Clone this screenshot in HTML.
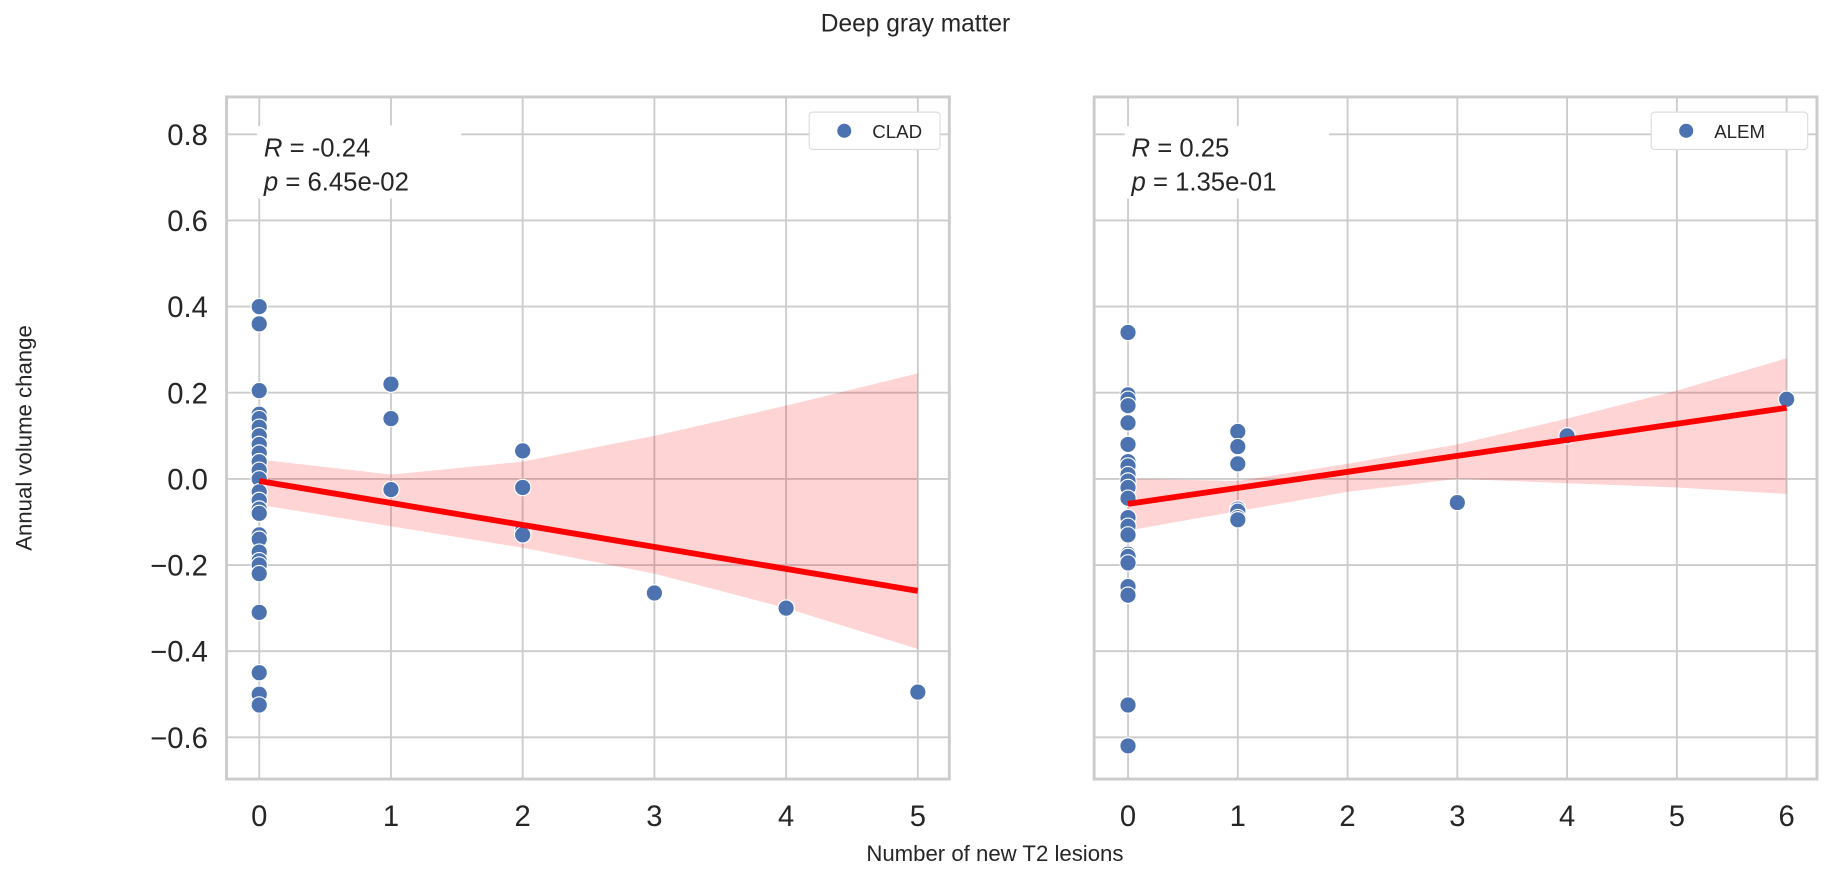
<!DOCTYPE html>
<html><head><meta charset="utf-8"><style>
html,body{margin:0;padding:0;background:#fff;}
svg{display:block;font-family:"Liberation Sans","DejaVu Sans",sans-serif;}
</style></head><body>
<svg id="fig" width="1831" height="869" viewBox="0 0 1568 744" preserveAspectRatio="none" xmlns="http://www.w3.org/2000/svg">
<text x="784" y="27" font-size="21" text-anchor="middle" fill="#262626">Deep gray matter</text>
<text transform="translate(27,375) rotate(-90)" font-size="19" text-anchor="middle" fill="#262626">Annual volume change</text>
<text x="852" y="737" font-size="19" text-anchor="middle" fill="#262626">Number of new T2 lesions</text>
<g id="left"></g>
<g id="right"></g>
</svg>
<script>
// ---- data ----
const yTicks = [0.8, 0.6, 0.4, 0.2, 0.0, -0.2, -0.4, -0.6];
const yTickLabels = ["0.8","0.6","0.4","0.2","0.0","\u22120.2","\u22120.4","\u22120.6"];
const cladX = [0,0,0,0,0,0,0,0,0,0,0,0,0,0,0,0,0,0,0,0,0,0,0,0,0,0,1,1,1,1,2,2,2,2,3,4,5];
const cladY = [0.40,0.36,0.205,0.15,0.14,0.12,0.10,0.08,0.06,0.04,0.02,0.0,-0.03,-0.05,-0.07,-0.08,-0.13,-0.14,-0.17,-0.19,-0.20,-0.22,-0.31,-0.45,-0.50,-0.525,0.80,0.22,0.14,-0.025,0.065,-0.02,-0.12,-0.13,-0.265,-0.30,-0.495];
const cladFit = [-0.005, -0.26];
const cladCiX = [0,1,2,3,4,5];
const cladCiLow = [-0.06,-0.11,-0.16,-0.22,-0.30,-0.395];
const cladCiHigh = [0.045,0.01,0.04,0.10,0.17,0.245];
const cladXTicks = [0,1,2,3,4,5];
const alemX = [0,0,0,0,0,0,0,0,0,0,0,0,0,0,0,0,0,0,0,0,0,0,1,1,1,1,1,1,1,3,4,6];
const alemY = [0.34,0.195,0.185,0.17,0.13,0.08,0.04,0.03,0.01,-0.005,-0.02,-0.045,-0.09,-0.11,-0.13,-0.175,-0.18,-0.195,-0.25,-0.27,-0.525,-0.62,0.11,0.075,0.035,-0.07,-0.075,-0.09,-0.095,-0.055,0.10,0.185];
const alemFit = [-0.058, 0.165];
const alemCiX = [0,1,2,3,4,5,6];
const alemCiLow = [-0.12,-0.075,-0.03,0.0,-0.01,-0.02,-0.035];
const alemCiHigh = [0.0,-0.005,0.035,0.08,0.14,0.205,0.28];
const alemXTicks = [0,1,2,3,4,5,6];

const NS="http://www.w3.org/2000/svg";
function mk(parent,tag,attrs){const e=document.createElementNS(NS,tag);for(const k in attrs)e.setAttribute(k,attrs[k]);parent.appendChild(e);return e;}
const Y0=410, YS=368.75, yTop=83, yBot=667;
function sy(v){return Y0 - v*YS;}

function panel(g,cfg){
  const sx=v=>cfg.x0+v*cfg.xs;
  yTicks.forEach((t,i)=>{
    const l=mk(g,'line',{x1:cfg.L,x2:cfg.R,y1:sy(t),y2:sy(t),stroke:'#cccccc','stroke-width':1.6});
    
    
    if(cfg.showY){
      const tx=mk(g,'text',{x:cfg.L-16,y:sy(t)+9,'font-size':25,'text-anchor':'end',fill:'#262626'});
      tx.textContent=yTickLabels[i];
      
      
    }
  });
  cfg.xTicks.forEach(t=>{
    const l=mk(g,'line',{x1:sx(t),x2:sx(t),y1:yTop,y2:yBot,stroke:'#cccccc','stroke-width':1.6});
    
    
    const tx=mk(g,'text',{x:sx(t),y:yBot+40,'font-size':25,'text-anchor':'middle',fill:'#262626'});
    tx.textContent=String(t);
    
    
  });
  let d='';
  cfg.ciX.forEach((x,i)=>{d+=(i?'L':'M')+sx(x)+','+sy(cfg.ciHigh[i]);});
  for(let i=cfg.ciX.length-1;i>=0;i--){d+='L'+sx(cfg.ciX[i])+','+sy(cfg.ciLow[i]);}
  const band=mk(g,'path',{d:d+'Z',fill:'#ff0000','fill-opacity':0.17,stroke:'none'});
  
  
  cfg.px.forEach((x,i)=>{
    const c=mk(g,'circle',{cx:sx(x),cy:sy(cfg.py[i]),r:7,fill:'#4c72b0',stroke:'#ffffff','stroke-width':1});
    
    
  });
  const xmax=cfg.xTicks[cfg.xTicks.length-1];
  const fl=mk(g,'line',{x1:sx(0),y1:sy(cfg.fit[0]),x2:sx(xmax),y2:sy(cfg.fit[1]),stroke:'#ff0000','stroke-width':5});
  
  
  const sp=mk(g,'rect',{x:cfg.L,y:yTop,width:cfg.R-cfg.L,height:yBot-yTop,fill:'none',stroke:'#cccccc','stroke-width':2.5});
  
  
  const bg=mk(g,'rect',{x:cfg.L+26,y:108,width:175,height:62,fill:'#ffffff'});
  
  
  const t1=mk(g,'text',{x:cfg.L+32,y:134,'font-size':22,fill:'#262626'});
  t1.innerHTML='<tspan font-style="italic">R</tspan> = '+cfg.r;
  
  
  const t2=mk(g,'text',{x:cfg.L+32,y:163,'font-size':22,fill:'#262626'});
  t2.innerHTML='<tspan font-style="italic">p</tspan> = '+cfg.p;
  
  
  const lg=mk(g,'rect',{x:cfg.R-cfg.lw-8,y:96,width:cfg.lw,height:32,rx:3,fill:'#ffffff',stroke:'#dddddd','stroke-width':1});
  
  
  const lc=mk(g,'circle',{cx:cfg.R-cfg.lw+22,cy:112,r:6.5,fill:'#4c72b0',stroke:'#fff','stroke-width':1});
  
  
  const lt=mk(g,'text',{x:cfg.R-cfg.lw+46,y:118,'font-size':16,fill:'#262626'});
  lt.textContent=cfg.name;
  
  
}
panel(document.getElementById('left'),{L:194,R:813,x0:222,xs:112.8,xTicks:cladXTicks,px:cladX,py:cladY,fit:cladFit,ciX:cladCiX,ciLow:cladCiLow,ciHigh:cladCiHigh,showY:true,r:'-0.24',p:'6.45e-02',name:'CLAD',lw:112});
panel(document.getElementById('right'),{L:937,R:1556,x0:966,xs:94,xTicks:alemXTicks,px:alemX,py:alemY,fit:alemFit,ciX:alemCiX,ciLow:alemCiLow,ciHigh:alemCiHigh,showY:false,r:'0.25',p:'1.35e-01',name:'ALEM',lw:134});
</script>
</body></html>
